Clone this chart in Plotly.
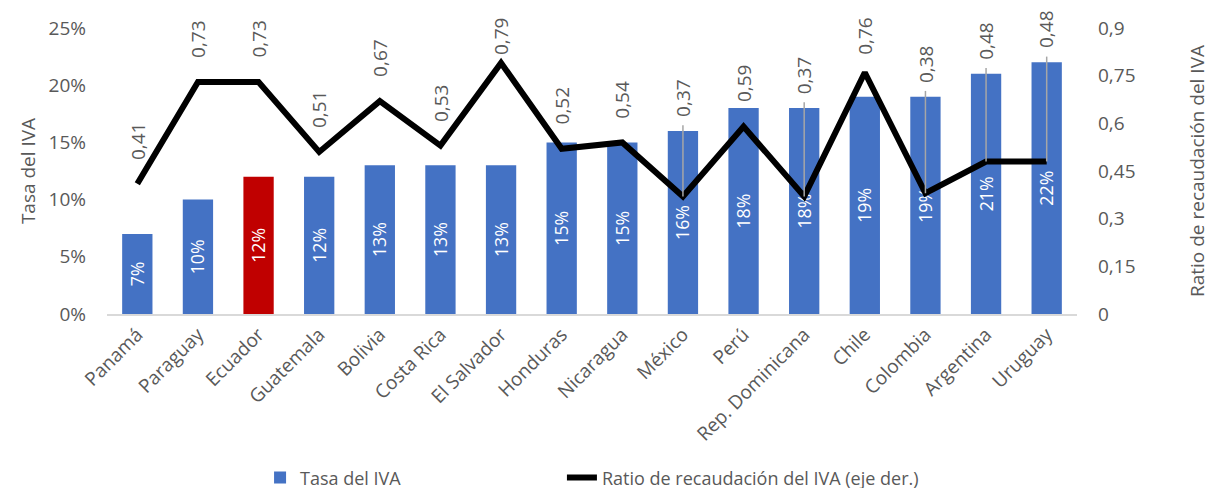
import plotly.graph_objects as go

countries = ["Panamá", "Paraguay", "Ecuador", "Guatemala", "Bolivia", "Costa Rica",
             "El Salvador", "Honduras", "Nicaragua", "México", "Perú",
             "Rep. Dominicana", "Chile", "Colombia", "Argentina", "Uruguay"]
tasa_iva = [0.07, 0.10, 0.12, 0.12, 0.13, 0.13, 0.13, 0.15, 0.15, 0.16, 0.18,
            0.18, 0.19, 0.19, 0.21, 0.22]
ratio_recaudacion = [0.41, 0.73, 0.73, 0.51, 0.67, 0.53, 0.79, 0.52, 0.54, 0.37,
                     0.59, 0.37, 0.76, 0.38, 0.48, 0.48]
left_ticks = [0, 0.05, 0.10, 0.15, 0.20, 0.25]
right_ticks = [0, 0.15, 0.3, 0.45, 0.6, 0.75, 0.9]
highlight = "Ecuador"

BLUE = "#4472C4"
RED = "#C00000"
GRAY = "#595959"
FONT = "Open Sans"
FS = 19

LMAX = left_ticks[-1]
RMAX = right_ticks[-1]

W, H = 1206, 488
ML, MR, MT, MB = 99, 137, 20, 182
PLOT_H = H - MT - MB
LABEL_GAP = 22       # px between line point and label
LABEL_LEN = 37       # px length of a rotated label
TOP_LIMIT = 13       # px above plot top where labels may reach

def fmt(v):
    return f"{v:g}".replace(".", ",")

colors = [RED if c == highlight else BLUE for c in countries]

fig = go.Figure()
fig.add_trace(go.Bar(
    x=countries, y=tasa_iva, name="Tasa del IVA",
    marker=dict(color=colors, line=dict(width=0)),
    texttemplate="%{y:.0%}", textposition="inside", insidetextanchor="middle",
    textangle=-90, textfont=dict(color="white", size=FS, family=FONT),
    yaxis="y", legend="legend",
))
fig.add_trace(go.Scatter(
    x=countries, y=ratio_recaudacion, name="Ratio de recaudación del IVA (eje der.)",
    mode="lines", line=dict(color="black", width=6), yaxis="y2", legend="legend2",
))

annotations = []
shapes = []
lab_font = dict(size=FS, color=GRAY, family=FONT)
for c, b, r in zip(countries, tasa_iva, ratio_recaudacion):
    leader = (b / LMAX - r / RMAX) > 0.1
    if leader:
        annotations.append(dict(x=c, y=b, xref="x", yref="y", text=fmt(r),
                                textangle=-90, showarrow=False, yanchor="bottom",
                                xanchor="center", yshift=12, font=lab_font))
        shapes.append(dict(type="line", xref="x", yref="y", x0=c, x1=c,
                           y0=r * LMAX / RMAX, y1=b + 0.005,
                           line=dict(color="#A6A6A6", width=1.5), layer="above"))
    elif r / RMAX * PLOT_H + LABEL_GAP + LABEL_LEN > PLOT_H + TOP_LIMIT:
        annotations.append(dict(x=c, y=1 + TOP_LIMIT / PLOT_H, xref="x", yref="paper",
                                text=fmt(r), textangle=-90, showarrow=False,
                                yanchor="top", xanchor="center", font=lab_font))
    else:
        annotations.append(dict(x=c, y=r, xref="x", yref="y2", text=fmt(r),
                                textangle=-90, showarrow=False, yanchor="bottom",
                                xanchor="center", yshift=LABEL_GAP, font=lab_font))

legend_font = dict(size=18, color=GRAY, family=FONT)

fig.update_layout(
    width=W, height=H,
    margin=dict(l=ML, r=MR, t=MT, b=MB, autoexpand=False),
    paper_bgcolor="white", plot_bgcolor="white",
    separators=",.",
    font=dict(family=FONT, size=FS, color=GRAY),
    bargap=0.5,
    showlegend=True,
    legend=dict(orientation="h", x=0.1578, xanchor="left", y=-0.573, yanchor="middle",
                font=legend_font, bgcolor="rgba(0,0,0,0)"),
    legend2=dict(orientation="h", x=0.469, xanchor="left", y=-0.573, yanchor="middle",
                 font=legend_font, bgcolor="rgba(0,0,0,0)"),
    xaxis=dict(tickangle=-45, showgrid=False, showline=True, linecolor="#D9D9D9",
               linewidth=2, ticks="", automargin=False,
               tickfont=dict(size=FS, color=GRAY, family=FONT)),
    yaxis=dict(range=[0, LMAX], tickvals=left_ticks, tickformat=".0%",
               showgrid=False, zeroline=False, showline=False, ticks="",
               automargin=False,
               title=dict(text="Tasa del IVA", standoff=7,
                          font=dict(size=FS, color=GRAY, family=FONT)),
               ticklabelstandoff=20),
    yaxis2=dict(range=[0, RMAX], tickvals=right_ticks,
                ticktext=[fmt(v) for v in right_ticks], overlaying="y", side="right",
                showgrid=False, zeroline=False, showline=False, ticks="",
                automargin=False,
                title=dict(text="Ratio de recaudación del IVA", standoff=56,
                           font=dict(size=FS, color=GRAY, family=FONT)),
                ticklabelstandoff=20),
    annotations=annotations,
    shapes=shapes,
)

fig.write_html("out.html")
